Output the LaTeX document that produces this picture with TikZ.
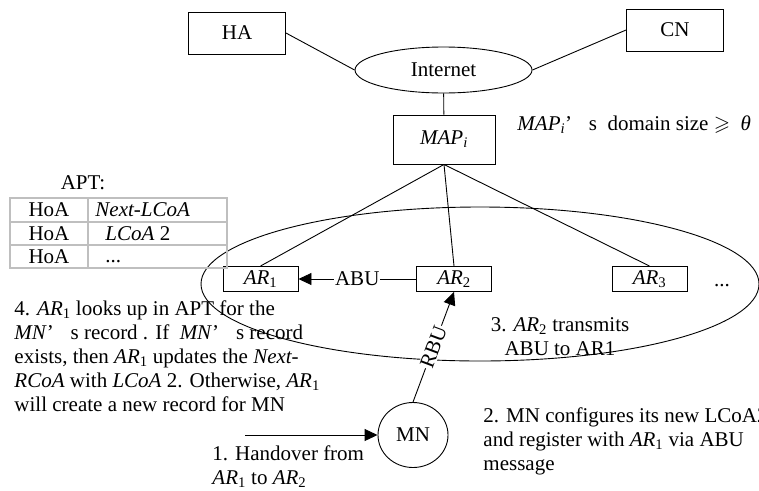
\documentclass[tikz,border=0pt]{standalone}
\usepackage{amssymb}
\usepackage{fontspec}
\setmainfont{Liberation Serif}
\usetikzlibrary{arrows.meta,shapes.geometric}

\newcommand{\arsub}[1]{\textit{AR}\textsubscript{#1}}
\newcommand{\apos}{’\hspace{0.8em}}

\begin{document}
\begin{tikzpicture}[x=1pt,y=-1pt,font=\fontsize{21}{24}\selectfont,line width=0.9pt,
  hostbox/.style={draw,rectangle,minimum width=97,minimum height=42,inner sep=0pt},
  arbox/.style={draw,rectangle,minimum width=75,minimum height=25,inner sep=0pt},
  note/.style={inner sep=0pt,align=left,anchor=north west},
  msg/.style={-{Triangle[length=13pt,width=12pt]}}]
\useasboundingbox (0,0) rectangle (759,490);

% core network
\node[hostbox] (HA) at (237,33) {HA};
\node[hostbox] (CN) at (675,30) {CN};
\node[draw,ellipse,minimum width=177,minimum height=46,inner sep=0pt] (inet) at (443.5,70) {Internet};
\node[draw,rectangle,minimum width=102,minimum height=49,inner sep=0pt] (MAP) at (444,139.5) {\textit{MAP}\textsubscript{\textit{i}}};
\draw (HA.east) -- (inet.west);
\draw (CN.west) -- (inet.east);
\draw (inet) -- (MAP);
\node[inner sep=0pt,anchor=west] (dsize) at (517,125) {\textit{MAP}\textsubscript{\textit{i}}\apos s\ \ domain size\ $\geqslant$\ \ \textit{θ}};

% MAP domain
\node[draw,ellipse,minimum width=558,minimum height=154,inner sep=0pt] (domain) at (480,284) {};
\node[arbox] (AR1) at (260.5,279) {\arsub{1}};
\node[arbox] (AR2) at (454,279) {\arsub{2}};
\node[arbox] (AR3) at (649.5,279) {\arsub{3}};
\node[inner sep=0pt,anchor=base] (more) at (722,286) {...};
\draw (MAP.south) -- (AR1.north);
\draw (MAP.south) -- (AR2.north);
\draw (MAP.south) -- (AR3.north);
\draw[msg] (AR2) -- node[fill=white,inner sep=1pt] {ABU} (AR1);

% mobile node
\node[draw,ellipse,minimum width=70,minimum height=65,inner sep=0pt] (MN) at (413,435) {MN};
\draw[msg] (MN.north) -- node[fill=white,sloped,inner sep=1pt] {RBU} (AR2.south);
\coordinate (hstart) at (245,435);
\draw[msg] (hstart) -- (MN.west);

% APT table
\node (apt) at (83,183) {APT:};
\draw[gray!50,line width=2pt] (10,198) rectangle (227,268);
\draw[gray!50,line width=2pt] (10,222) -- (227,222);
\draw[gray!50,line width=2pt] (10,245) -- (227,245);
\draw[gray!50,line width=2pt] (88,198) -- (88,268);
\node (hoa1) at (49,210) {HoA};
\node (hoa2) at (49,233.5) {HoA};
\node (hoa3) at (49,256.5) {HoA};
\node[anchor=west,inner sep=0pt] (next) at (95,210) {\textit{Next-LCoA}};
\node[anchor=west,inner sep=0pt] (lcoa) at (105,233.5) {\textit{LCoA} 2};
\node[anchor=base west,inner sep=0pt] (dots) at (105,262) {...};

% steps
\node[note] (step1) at (212,445.5) {1. Handover from\\\arsub{1} to \arsub{2}};
\node[note] (step2) at (483,407.5) {2. MN configures its new LCoA2\\and register with \arsub{1} via ABU\\message};
\node[note,align=center,anchor=north] (step3) at (560,317.5) {3. \arsub{2} transmits\\ABU to AR1};
\node[note] (step4) at (14,300.5) {4. \arsub{1} looks up in APT for the\\\textit{MN}\apos s record . If \ \textit{MN}\apos s record\\exists, then \arsub{1} updates the \textit{Next-}\\\textit{RCoA} with \textit{LCoA} 2. Otherwise, \arsub{1}\\will create a new record for MN};
\end{tikzpicture}
\end{document}
